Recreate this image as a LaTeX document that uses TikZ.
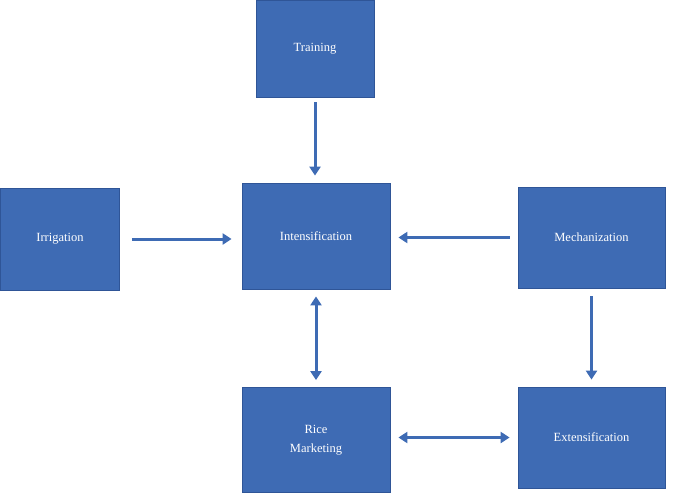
\documentclass[tikz,border=0pt]{standalone}
\usepackage{fontspec}
\setmainfont{Liberation Serif}
\usetikzlibrary{arrows.meta}
\definecolor{bfill}{HTML}{3E6BB4}
\definecolor{bline}{HTML}{2F5597}
\begin{document}
\begin{tikzpicture}[x=1pt,y=-1pt,
  box/.style={draw=bline,line width=0.8pt,fill=bfill,text=white,font=\fontsize{12.5}{15}\selectfont,align=center,inner sep=0pt},
  arr/.style={draw=bfill,line width=3pt,-{Triangle[length=9pt,width=11pt]}},
  darr/.style={draw=bfill,line width=3pt,{Triangle[length=9pt,width=11pt]}-{Triangle[length=9pt,width=11pt]}}]
\useasboundingbox (0,0) rectangle (685,493);
\node[box,minimum width=118pt,minimum height=97pt] (train) at (315,48.5) {Training};
\node[box,minimum width=119pt,minimum height=102pt] (irr) at (60,239) {Irrigation};
\node[box,minimum width=148pt,minimum height=106pt] (int) at (316,236) {Intensification};
\node[box,minimum width=147pt,minimum height=101pt] (mech) at (591.5,237.5) {Mechanization};
\node[box,minimum width=148pt,minimum height=105pt] (rice) at (316,440) {Rice\\[4pt]Marketing};
\node[box,minimum width=147pt,minimum height=101pt] (ext) at (591.5,437.5) {Extensification};
\draw[arr,shorten <=5pt,shorten >=7pt] (train.south) -- (train.south |- int.north);
\draw[arr,shorten <=12pt,shorten >=10pt] (irr.east) -- (irr.east -| int.west);
\draw[arr,shorten <=8pt,shorten >=8pt] (mech.west) -- (mech.west -| int.east);
\draw[darr,shorten <=7pt,shorten >=7pt] (int.south) -- (int.south |- rice.north);
\draw[arr,shorten <=8pt,shorten >=7pt] (mech.south) -- (mech.south |- ext.north);
\draw[darr,shorten <=8pt,shorten >=8pt] (ext.west -| rice.east) -- (ext.west);
\end{tikzpicture}
\end{document}
